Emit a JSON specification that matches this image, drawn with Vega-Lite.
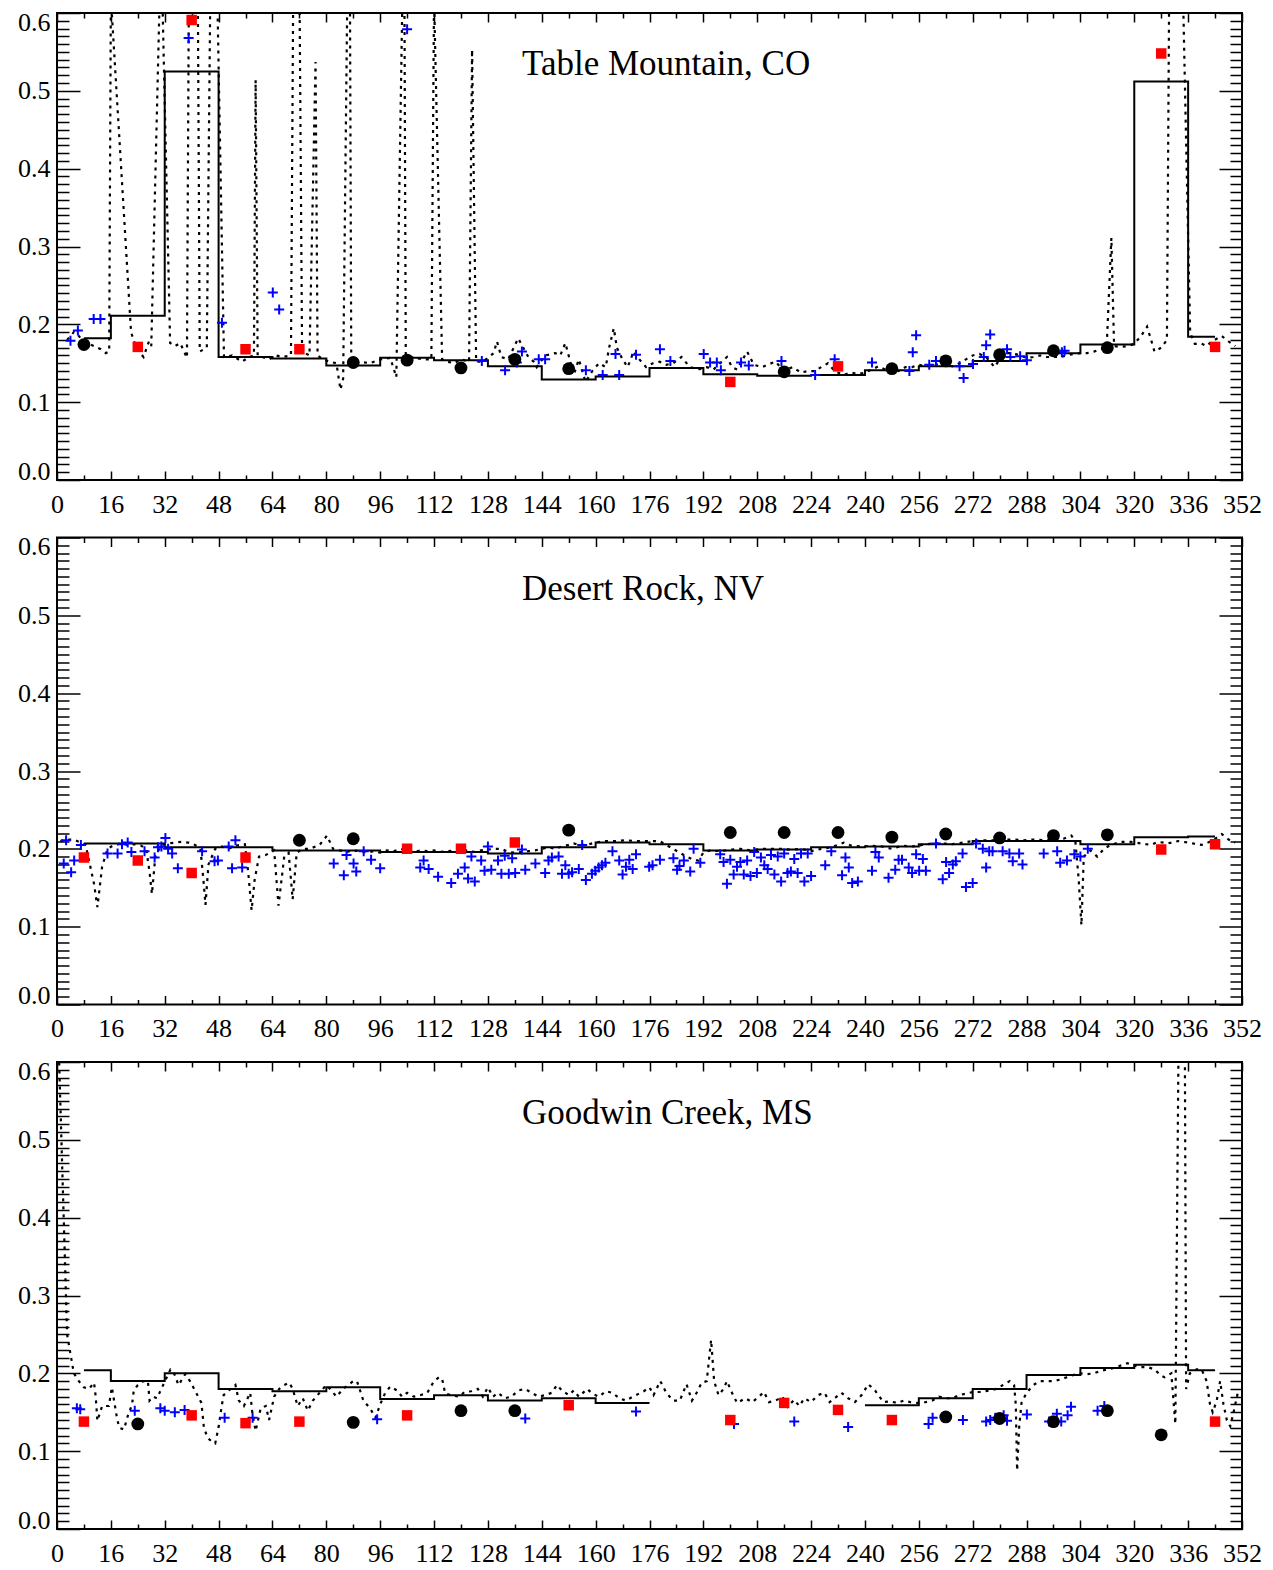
{
"$schema": "https://vega.github.io/schema/vega-lite/v6.json",
"padding": {"left": 16, "top": 8, "right": 5, "bottom": 0},
"background": "white",
"bounds": "flush",
"spacing": 57.5,
"config": {
  "font": "Liberation Serif",
  "view": {"stroke": "black", "strokeWidth": 2},
  "axis": {"domain": false, "grid": false, "tickColor": "black", "tickWidth": 1.5, "labelColor": "black", "labelFont": "Liberation Serif", "labelFontSize": 26},
  "title": {"font": "Liberation Serif", "fontSize": 35, "fontWeight": "normal", "color": "black", "anchor": "start", "frame": "group", "offset": -73, "baseline": "alphabetic", "dx": 465}
},
"datasets": {
"p1_daily": [{"day":3,"albedo":0.18},{"day":4,"albedo":0.185},{"day":5,"albedo":0.19},{"day":6,"albedo":0.188},{"day":7,"albedo":0.182},{"day":9,"albedo":0.176},{"day":11,"albedo":0.172},{"day":13,"albedo":0.168},{"day":14.5,"albedo":0.163},{"day":15.5,"albedo":0.165},{"day":16,"albedo":0.62},{"day":22,"albedo":0.19},{"day":23.5,"albedo":0.17},{"day":25.7,"albedo":0.158},{"day":27.3,"albedo":0.178},{"day":28,"albedo":0.172},{"day":30.5,"albedo":0.62},{"day":31.3,"albedo":0.62},{"day":33.6,"albedo":0.176},{"day":35,"albedo":0.172},{"day":36.6,"albedo":0.176},{"day":38.6,"albedo":0.157},{"day":39.2,"albedo":0.65},{"day":41.8,"albedo":0.65},{"day":42.4,"albedo":0.165},{"day":44.5,"albedo":0.17},{"day":45.6,"albedo":0.65},{"day":47.5,"albedo":0.65},{"day":49.6,"albedo":0.158},{"day":52,"albedo":0.16},{"day":55,"albedo":0.152},{"day":57,"albedo":0.158},{"day":58.5,"albedo":0.16},{"day":59,"albedo":0.514},{"day":59.6,"albedo":0.16},{"day":61,"albedo":0.158},{"day":63,"albedo":0.155},{"day":65,"albedo":0.16},{"day":67,"albedo":0.158},{"day":69.5,"albedo":0.16},{"day":70.2,"albedo":0.65},{"day":72,"albedo":0.65},{"day":72.8,"albedo":0.165},{"day":75,"albedo":0.16},{"day":76.8,"albedo":0.537},{"day":77.4,"albedo":0.16},{"day":79,"albedo":0.155},{"day":81,"albedo":0.152},{"day":83,"albedo":0.15},{"day":84.2,"albedo":0.116},{"day":85,"albedo":0.13},{"day":86.3,"albedo":0.65},{"day":87,"albedo":0.65},{"day":87.4,"albedo":0.16},{"day":88.5,"albedo":0.15},{"day":90,"albedo":0.152},{"day":93,"albedo":0.15},{"day":96,"albedo":0.155},{"day":99,"albedo":0.157},{"day":100.8,"albedo":0.132},{"day":102.6,"albedo":0.62},{"day":103.2,"albedo":0.62},{"day":103.6,"albedo":0.16},{"day":106,"albedo":0.157},{"day":109,"albedo":0.155},{"day":111.2,"albedo":0.155},{"day":112,"albedo":0.62},{"day":114.4,"albedo":0.155},{"day":116,"albedo":0.152},{"day":118,"albedo":0.15},{"day":120,"albedo":0.155},{"day":122.4,"albedo":0.152},{"day":123.3,"albedo":0.553},{"day":124.5,"albedo":0.152},{"day":126.5,"albedo":0.152},{"day":129.7,"albedo":0.163},{"day":130.7,"albedo":0.178},{"day":132,"albedo":0.158},{"day":134,"albedo":0.155},{"day":137,"albedo":0.182},{"day":138.5,"albedo":0.17},{"day":140,"albedo":0.158},{"day":141.6,"albedo":0.152},{"day":142.5,"albedo":0.145},{"day":145,"albedo":0.16},{"day":148,"albedo":0.163},{"day":149.5,"albedo":0.16},{"day":151,"albedo":0.176},{"day":153.5,"albedo":0.135},{"day":155,"albedo":0.155},{"day":157,"albedo":0.126},{"day":159,"albedo":0.14},{"day":161,"albedo":0.15},{"day":163,"albedo":0.145},{"day":164,"albedo":0.17},{"day":165.4,"albedo":0.195},{"day":166.3,"albedo":0.17},{"day":168,"albedo":0.155},{"day":169.5,"albedo":0.145},{"day":171.3,"albedo":0.165},{"day":173,"albedo":0.155},{"day":175,"albedo":0.145},{"day":177,"albedo":0.15},{"day":179,"albedo":0.152},{"day":181,"albedo":0.148},{"day":183,"albedo":0.15},{"day":185.5,"albedo":0.158},{"day":188,"albedo":0.145},{"day":190.5,"albedo":0.142},{"day":193,"albedo":0.145},{"day":195,"albedo":0.142},{"day":197,"albedo":0.15},{"day":199,"albedo":0.158},{"day":200.5,"albedo":0.145},{"day":202,"albedo":0.142},{"day":205,"albedo":0.165},{"day":207,"albedo":0.148},{"day":209.5,"albedo":0.145},{"day":211,"albedo":0.148},{"day":213.4,"albedo":0.152},{"day":216,"albedo":0.14},{"day":218.5,"albedo":0.145},{"day":221,"albedo":0.138},{"day":223,"albedo":0.14},{"day":225,"albedo":0.14},{"day":227,"albedo":0.145},{"day":229,"albedo":0.15},{"day":231,"albedo":0.14},{"day":233.5,"albedo":0.135},{"day":236,"albedo":0.138},{"day":238,"albedo":0.136},{"day":240,"albedo":0.138},{"day":242,"albedo":0.142},{"day":244,"albedo":0.146},{"day":246,"albedo":0.142},{"day":248,"albedo":0.145},{"day":250,"albedo":0.14},{"day":252,"albedo":0.145},{"day":254,"albedo":0.145},{"day":256,"albedo":0.148},{"day":258,"albedo":0.146},{"day":261,"albedo":0.148},{"day":263,"albedo":0.15},{"day":266,"albedo":0.146},{"day":268,"albedo":0.15},{"day":270,"albedo":0.155},{"day":272,"albedo":0.16},{"day":274,"albedo":0.162},{"day":276,"albedo":0.158},{"day":278.5,"albedo":0.145},{"day":280,"albedo":0.155},{"day":282,"albedo":0.163},{"day":284,"albedo":0.163},{"day":286,"albedo":0.16},{"day":288,"albedo":0.157},{"day":290,"albedo":0.158},{"day":292,"albedo":0.16},{"day":294,"albedo":0.158},{"day":296,"albedo":0.158},{"day":298,"albedo":0.158},{"day":300,"albedo":0.16},{"day":302,"albedo":0.162},{"day":304,"albedo":0.163},{"day":306,"albedo":0.163},{"day":308,"albedo":0.165},{"day":310,"albedo":0.168},{"day":311.8,"albedo":0.171},{"day":313.2,"albedo":0.311},{"day":314,"albedo":0.172},{"day":316,"albedo":0.171},{"day":318,"albedo":0.172},{"day":320,"albedo":0.175},{"day":322,"albedo":0.185},{"day":323.8,"albedo":0.197},{"day":325,"albedo":0.18},{"day":326,"albedo":0.165},{"day":328,"albedo":0.17},{"day":329.7,"albedo":0.18},{"day":330.4,"albedo":0.65},{"day":334.5,"albedo":0.62},{"day":336.6,"albedo":0.189},{"day":338,"albedo":0.175},{"day":340,"albedo":0.175},{"day":341.5,"albedo":0.172},{"day":343,"albedo":0.178},{"day":346,"albedo":0.185},{"day":348,"albedo":0.178},{"day":350,"albedo":0.172}],
"p1_step": [{"day":8,"albedo":0.182,"run":1},{"day":16,"albedo":0.211,"run":1},{"day":32,"albedo":0.525,"run":1},{"day":48,"albedo":0.158,"run":1},{"day":64,"albedo":0.156,"run":1},{"day":80,"albedo":0.147,"run":1},{"day":96,"albedo":0.157,"run":1},{"day":112,"albedo":0.154,"run":1},{"day":128,"albedo":0.146,"run":1},{"day":144,"albedo":0.129,"run":1},{"day":160,"albedo":0.133,"run":1},{"day":176,"albedo":0.144,"run":1},{"day":192,"albedo":0.136,"run":1},{"day":208,"albedo":0.134,"run":1},{"day":224,"albedo":0.135,"run":1},{"day":240,"albedo":0.141,"run":1},{"day":256,"albedo":0.146,"run":1},{"day":272,"albedo":0.153,"run":1},{"day":288,"albedo":0.163,"run":1},{"day":304,"albedo":0.174,"run":1},{"day":320,"albedo":0.512,"run":1},{"day":336,"albedo":0.184,"run":1},{"day":344,"albedo":0.184,"run":1}],
"p1_plus": [{"day":4,"albedo":0.179},{"day":6.2,"albedo":0.192},{"day":10.9,"albedo":0.207},{"day":12.9,"albedo":0.207},{"day":39.1,"albedo":0.568},{"day":49,"albedo":0.202},{"day":64.1,"albedo":0.241},{"day":66,"albedo":0.219},{"day":104,"albedo":0.579},{"day":126.2,"albedo":0.153},{"day":133.1,"albedo":0.141},{"day":136.6,"albedo":0.151},{"day":138.1,"albedo":0.165},{"day":143.1,"albedo":0.155},{"day":145,"albedo":0.155},{"day":157.1,"albedo":0.141},{"day":162.1,"albedo":0.135},{"day":165.9,"albedo":0.162},{"day":167,"albedo":0.135},{"day":172,"albedo":0.161},{"day":179.1,"albedo":0.168},{"day":182.2,"albedo":0.153},{"day":192.1,"albedo":0.162},{"day":194,"albedo":0.151},{"day":196,"albedo":0.151},{"day":197.2,"albedo":0.141},{"day":203.2,"albedo":0.151},{"day":205.5,"albedo":0.147},{"day":215.2,"albedo":0.153},{"day":225.2,"albedo":0.135},{"day":231,"albedo":0.155},{"day":242.1,"albedo":0.151},{"day":253.2,"albedo":0.14},{"day":254.2,"albedo":0.164},{"day":255.2,"albedo":0.186},{"day":259.1,"albedo":0.148},{"day":261.1,"albedo":0.153},{"day":268.1,"albedo":0.146},{"day":269.3,"albedo":0.131},{"day":272.1,"albedo":0.149},{"day":275.3,"albedo":0.158},{"day":276,"albedo":0.173},{"day":277.2,"albedo":0.187},{"day":282.2,"albedo":0.168},{"day":283.2,"albedo":0.158},{"day":286.1,"albedo":0.159},{"day":288.1,"albedo":0.154},{"day":298.5,"albedo":0.164},{"day":299.3,"albedo":0.166}],
"p1_sq": [{"day":24,"albedo":0.171},{"day":40,"albedo":0.591},{"day":56,"albedo":0.168},{"day":72,"albedo":0.168},{"day":200,"albedo":0.126},{"day":232,"albedo":0.146},{"day":328,"albedo":0.548},{"day":344,"albedo":0.171}],
"p1_dot": [{"day":8,"albedo":0.174},{"day":88,"albedo":0.151},{"day":104,"albedo":0.154},{"day":120,"albedo":0.144},{"day":136,"albedo":0.155},{"day":152,"albedo":0.143},{"day":216,"albedo":0.139},{"day":248,"albedo":0.143},{"day":264,"albedo":0.153},{"day":280,"albedo":0.161},{"day":296,"albedo":0.166},{"day":312,"albedo":0.17}],
"p2_daily": [{"day":1,"albedo":0.21},{"day":3,"albedo":0.212},{"day":5,"albedo":0.212},{"day":7,"albedo":0.208},{"day":8.5,"albedo":0.205},{"day":9.5,"albedo":0.185},{"day":11,"albedo":0.155},{"day":12,"albedo":0.125},{"day":13.4,"albedo":0.177},{"day":15,"albedo":0.2},{"day":17,"albedo":0.205},{"day":19,"albedo":0.207},{"day":21,"albedo":0.205},{"day":23,"albedo":0.206},{"day":25,"albedo":0.204},{"day":26.5,"albedo":0.2},{"day":27.5,"albedo":0.17},{"day":28.2,"albedo":0.142},{"day":29.2,"albedo":0.19},{"day":31,"albedo":0.205},{"day":33,"albedo":0.207},{"day":35,"albedo":0.208},{"day":37,"albedo":0.209},{"day":39,"albedo":0.208},{"day":41,"albedo":0.205},{"day":42.6,"albedo":0.2},{"day":43.5,"albedo":0.16},{"day":44.1,"albedo":0.128},{"day":45,"albedo":0.18},{"day":47,"albedo":0.2},{"day":49,"albedo":0.203},{"day":51,"albedo":0.2},{"day":53,"albedo":0.204},{"day":55.8,"albedo":0.206},{"day":56.8,"albedo":0.17},{"day":57.8,"albedo":0.121},{"day":58.7,"albedo":0.16},{"day":60,"albedo":0.19},{"day":62,"albedo":0.192},{"day":64.5,"albedo":0.198},{"day":65.8,"albedo":0.127},{"day":67.5,"albedo":0.19},{"day":68.8,"albedo":0.195},{"day":70,"albedo":0.135},{"day":71.2,"albedo":0.195},{"day":73,"albedo":0.2},{"day":75,"albedo":0.2},{"day":78,"albedo":0.205},{"day":80.2,"albedo":0.217},{"day":82,"albedo":0.2},{"day":84,"albedo":0.198},{"day":86,"albedo":0.196},{"day":88,"albedo":0.198},{"day":90,"albedo":0.197},{"day":92,"albedo":0.195},{"day":94,"albedo":0.197},{"day":96,"albedo":0.195},{"day":98,"albedo":0.198},{"day":100,"albedo":0.197},{"day":102,"albedo":0.2},{"day":104,"albedo":0.198},{"day":106,"albedo":0.196},{"day":108,"albedo":0.198},{"day":110,"albedo":0.197},{"day":112,"albedo":0.198},{"day":114,"albedo":0.196},{"day":116,"albedo":0.197},{"day":118,"albedo":0.198},{"day":120,"albedo":0.197},{"day":122,"albedo":0.198},{"day":124,"albedo":0.196},{"day":126,"albedo":0.198},{"day":128,"albedo":0.199},{"day":130,"albedo":0.2},{"day":132,"albedo":0.2},{"day":134,"albedo":0.196},{"day":136,"albedo":0.195},{"day":138,"albedo":0.196},{"day":140,"albedo":0.197},{"day":142,"albedo":0.198},{"day":144,"albedo":0.2},{"day":146,"albedo":0.202},{"day":148,"albedo":0.2},{"day":150,"albedo":0.203},{"day":152,"albedo":0.205},{"day":153.5,"albedo":0.207},{"day":155,"albedo":0.205},{"day":157,"albedo":0.205},{"day":160,"albedo":0.208},{"day":163,"albedo":0.21},{"day":166,"albedo":0.21},{"day":169,"albedo":0.211},{"day":172,"albedo":0.21},{"day":176,"albedo":0.21},{"day":179,"albedo":0.21},{"day":181,"albedo":0.205},{"day":183,"albedo":0.2},{"day":185,"albedo":0.195},{"day":187,"albedo":0.19},{"day":189,"albedo":0.186},{"day":190.5,"albedo":0.185},{"day":192,"albedo":0.195},{"day":194,"albedo":0.198},{"day":197,"albedo":0.197},{"day":200,"albedo":0.199},{"day":203,"albedo":0.2},{"day":206,"albedo":0.198},{"day":209,"albedo":0.2},{"day":212,"albedo":0.2},{"day":215,"albedo":0.2},{"day":218,"albedo":0.199},{"day":221,"albedo":0.2},{"day":224,"albedo":0.197},{"day":227,"albedo":0.2},{"day":230,"albedo":0.202},{"day":233.7,"albedo":0.208},{"day":236,"albedo":0.204},{"day":239,"albedo":0.203},{"day":242,"albedo":0.204},{"day":245,"albedo":0.203},{"day":248,"albedo":0.2},{"day":251,"albedo":0.204},{"day":254,"albedo":0.203},{"day":257,"albedo":0.205},{"day":260,"albedo":0.207},{"day":263,"albedo":0.207},{"day":266,"albedo":0.206},{"day":269,"albedo":0.208},{"day":272,"albedo":0.21},{"day":275,"albedo":0.211},{"day":278,"albedo":0.211},{"day":281,"albedo":0.212},{"day":284,"albedo":0.212},{"day":287,"albedo":0.211},{"day":290,"albedo":0.212},{"day":293,"albedo":0.211},{"day":296,"albedo":0.212},{"day":299,"albedo":0.213},{"day":301.3,"albedo":0.217},{"day":302.5,"albedo":0.21},{"day":303.5,"albedo":0.16},{"day":304.3,"albedo":0.102},{"day":305,"albedo":0.19},{"day":307,"albedo":0.198},{"day":309,"albedo":0.19},{"day":311,"albedo":0.2},{"day":313,"albedo":0.205},{"day":316,"albedo":0.209},{"day":319,"albedo":0.209},{"day":322,"albedo":0.207},{"day":325,"albedo":0.205},{"day":327,"albedo":0.209},{"day":330,"albedo":0.207},{"day":333,"albedo":0.21},{"day":336,"albedo":0.208},{"day":340,"albedo":0.205},{"day":343,"albedo":0.21},{"day":346,"albedo":0.219},{"day":348,"albedo":0.212},{"day":350,"albedo":0.208}],
"p2_step": [{"day":8,"albedo":0.207,"run":1},{"day":16,"albedo":0.207,"run":1},{"day":32,"albedo":0.202,"run":1},{"day":48,"albedo":0.202,"run":1},{"day":64,"albedo":0.198,"run":1},{"day":80,"albedo":0.198,"run":1},{"day":96,"albedo":0.196,"run":1},{"day":112,"albedo":0.196,"run":1},{"day":128,"albedo":0.194,"run":1},{"day":144,"albedo":0.202,"run":1},{"day":160,"albedo":0.208,"run":1},{"day":176,"albedo":0.206,"run":1},{"day":192,"albedo":0.198,"run":1},{"day":208,"albedo":0.199,"run":1},{"day":224,"albedo":0.202,"run":1},{"day":240,"albedo":0.203,"run":1},{"day":256,"albedo":0.206,"run":1},{"day":272,"albedo":0.21,"run":1},{"day":288,"albedo":0.21,"run":1},{"day":304,"albedo":0.206,"run":1},{"day":320,"albedo":0.215,"run":1},{"day":336,"albedo":0.216,"run":1},{"day":344,"albedo":0.216,"run":1}],
"p2_plus": [{"day":2,"albedo":0.181},{"day":2.7,"albedo":0.211},{"day":4.2,"albedo":0.17},{"day":5.1,"albedo":0.185},{"day":7.1,"albedo":0.205},{"day":15,"albedo":0.194},{"day":18,"albedo":0.194},{"day":19.3,"albedo":0.206},{"day":21,"albedo":0.208},{"day":22.1,"albedo":0.196},{"day":26,"albedo":0.197},{"day":29,"albedo":0.189},{"day":30,"albedo":0.202},{"day":31,"albedo":0.203},{"day":32.2,"albedo":0.214},{"day":33,"albedo":0.2},{"day":34.2,"albedo":0.194},{"day":35.9,"albedo":0.175},{"day":43.1,"albedo":0.197},{"day":46.8,"albedo":0.184},{"day":47.8,"albedo":0.185},{"day":51,"albedo":0.203},{"day":52,"albedo":0.175},{"day":53,"albedo":0.211},{"day":55,"albedo":0.176},{"day":82.2,"albedo":0.181},{"day":85.2,"albedo":0.166},{"day":86,"albedo":0.192},{"day":88.1,"albedo":0.181},{"day":88.9,"albedo":0.171},{"day":91.1,"albedo":0.197},{"day":93.3,"albedo":0.186},{"day":96,"albedo":0.175},{"day":107.9,"albedo":0.176},{"day":108.9,"albedo":0.185},{"day":110.4,"albedo":0.174},{"day":113.2,"albedo":0.164},{"day":117.1,"albedo":0.156},{"day":119.1,"albedo":0.168},{"day":121.1,"albedo":0.176},{"day":122.1,"albedo":0.162},{"day":123.1,"albedo":0.19},{"day":124.1,"albedo":0.158},{"day":126,"albedo":0.185},{"day":127,"albedo":0.172},{"day":128,"albedo":0.203},{"day":129,"albedo":0.173},{"day":131,"albedo":0.185},{"day":132,"albedo":0.168},{"day":133,"albedo":0.191},{"day":134.2,"albedo":0.168},{"day":135.2,"albedo":0.188},{"day":136.1,"albedo":0.169},{"day":138.1,"albedo":0.199},{"day":139.1,"albedo":0.173},{"day":142.1,"albedo":0.181},{"day":145,"albedo":0.169},{"day":146,"albedo":0.185},{"day":147,"albedo":0.189},{"day":149,"albedo":0.19},{"day":150,"albedo":0.168},{"day":151,"albedo":0.179},{"day":152,"albedo":0.168},{"day":153,"albedo":0.17},{"day":155,"albedo":0.174},{"day":156,"albedo":0.205},{"day":157.1,"albedo":0.16},{"day":158.9,"albedo":0.168},{"day":159.9,"albedo":0.172},{"day":160.9,"albedo":0.176},{"day":161.9,"albedo":0.179},{"day":162.9,"albedo":0.182},{"day":165,"albedo":0.197},{"day":167,"albedo":0.185},{"day":168,"albedo":0.167},{"day":169,"albedo":0.177},{"day":170,"albedo":0.186},{"day":171,"albedo":0.174},{"day":172,"albedo":0.193},{"day":175.9,"albedo":0.177},{"day":176.9,"albedo":0.179},{"day":179.1,"albedo":0.186},{"day":183.1,"albedo":0.188},{"day":184.2,"albedo":0.173},{"day":184.9,"albedo":0.178},{"day":186.2,"albedo":0.185},{"day":188.1,"albedo":0.171},{"day":189.1,"albedo":0.2},{"day":191.1,"albedo":0.182},{"day":197,"albedo":0.193},{"day":198,"albedo":0.183},{"day":199,"albedo":0.155},{"day":200,"albedo":0.186},{"day":201,"albedo":0.167},{"day":202,"albedo":0.177},{"day":203,"albedo":0.183},{"day":204,"albedo":0.167},{"day":205,"albedo":0.185},{"day":206,"albedo":0.165},{"day":207.1,"albedo":0.196},{"day":207.9,"albedo":0.169},{"day":209.1,"albedo":0.189},{"day":210.1,"albedo":0.179},{"day":211.1,"albedo":0.174},{"day":212.1,"albedo":0.192},{"day":213.1,"albedo":0.167},{"day":214.1,"albedo":0.19},{"day":215.1,"albedo":0.158},{"day":216,"albedo":0.194},{"day":217,"albedo":0.169},{"day":218,"albedo":0.171},{"day":219,"albedo":0.187},{"day":220,"albedo":0.169},{"day":221,"albedo":0.194},{"day":222,"albedo":0.158},{"day":223,"albedo":0.194},{"day":224,"albedo":0.165},{"day":228.2,"albedo":0.179},{"day":230,"albedo":0.197},{"day":233.2,"albedo":0.166},{"day":234.2,"albedo":0.189},{"day":235.2,"albedo":0.176},{"day":236.2,"albedo":0.156},{"day":237.9,"albedo":0.158},{"day":242.1,"albedo":0.172},{"day":243.1,"albedo":0.196},{"day":244.1,"albedo":0.189},{"day":247,"albedo":0.163},{"day":249,"albedo":0.173},{"day":250,"albedo":0.186},{"day":251,"albedo":0.186},{"day":253,"albedo":0.176},{"day":254,"albedo":0.169},{"day":255.2,"albedo":0.193},{"day":256.1,"albedo":0.172},{"day":257.2,"albedo":0.187},{"day":258.1,"albedo":0.172},{"day":261.1,"albedo":0.207},{"day":263.1,"albedo":0.161},{"day":264.1,"albedo":0.183},{"day":265,"albedo":0.169},{"day":266.1,"albedo":0.18},{"day":267,"albedo":0.184},{"day":269,"albedo":0.194},{"day":270,"albedo":0.151},{"day":272,"albedo":0.156},{"day":273,"albedo":0.207},{"day":275,"albedo":0.2},{"day":276,"albedo":0.176},{"day":276.9,"albedo":0.197},{"day":277.9,"albedo":0.197},{"day":280.9,"albedo":0.197},{"day":282.9,"albedo":0.194},{"day":283.9,"albedo":0.184},{"day":285.8,"albedo":0.194},{"day":286.8,"albedo":0.18},{"day":293.1,"albedo":0.194},{"day":297.1,"albedo":0.197},{"day":298,"albedo":0.182},{"day":300,"albedo":0.185},{"day":302.2,"albedo":0.193},{"day":304,"albedo":0.19},{"day":306.2,"albedo":0.2}],
"p2_sq": [{"day":8,"albedo":0.189},{"day":24,"albedo":0.185},{"day":40,"albedo":0.169},{"day":56,"albedo":0.189},{"day":104,"albedo":0.2},{"day":120,"albedo":0.2},{"day":136,"albedo":0.208},{"day":328,"albedo":0.199},{"day":344,"albedo":0.206}],
"p2_dot": [{"day":72,"albedo":0.211},{"day":88,"albedo":0.213},{"day":152,"albedo":0.224},{"day":200,"albedo":0.221},{"day":216,"albedo":0.221},{"day":232,"albedo":0.221},{"day":248,"albedo":0.215},{"day":264,"albedo":0.219},{"day":280,"albedo":0.214},{"day":296,"albedo":0.217},{"day":312,"albedo":0.218}],
"p3_daily": [{"day":0.5,"albedo":0.62},{"day":3,"albedo":0.25},{"day":4,"albedo":0.225},{"day":5,"albedo":0.2},{"day":6.5,"albedo":0.19},{"day":8,"albedo":0.182},{"day":9.5,"albedo":0.18},{"day":11,"albedo":0.188},{"day":11.5,"albedo":0.17},{"day":12,"albedo":0.139},{"day":13.4,"albedo":0.158},{"day":15.4,"albedo":0.158},{"day":16.3,"albedo":0.182},{"day":17.8,"albedo":0.143},{"day":18.5,"albedo":0.13},{"day":19.9,"albedo":0.128},{"day":21,"albedo":0.145},{"day":22.3,"albedo":0.16},{"day":22.8,"albedo":0.178},{"day":24,"albedo":0.185},{"day":25.7,"albedo":0.19},{"day":27,"albedo":0.19},{"day":27.5,"albedo":0.165},{"day":28.5,"albedo":0.17},{"day":29.7,"albedo":0.168},{"day":31,"albedo":0.18},{"day":33.7,"albedo":0.205},{"day":34.5,"albedo":0.203},{"day":36.1,"albedo":0.185},{"day":38.1,"albedo":0.199},{"day":39.5,"albedo":0.19},{"day":41.1,"albedo":0.177},{"day":42.9,"albedo":0.162},{"day":43.6,"albedo":0.132},{"day":44.6,"albedo":0.118},{"day":46,"albedo":0.112},{"day":47,"albedo":0.11},{"day":48,"albedo":0.131},{"day":49,"albedo":0.16},{"day":49.5,"albedo":0.172},{"day":51,"albedo":0.178},{"day":53,"albedo":0.185},{"day":54,"albedo":0.165},{"day":55.5,"albedo":0.158},{"day":57.4,"albedo":0.175},{"day":58,"albedo":0.15},{"day":59,"albedo":0.126},{"day":60.5,"albedo":0.155},{"day":62,"albedo":0.158},{"day":63,"albedo":0.14},{"day":64.5,"albedo":0.17},{"day":66,"albedo":0.18},{"day":67.5,"albedo":0.185},{"day":69,"albedo":0.188},{"day":70,"albedo":0.18},{"day":71.5,"albedo":0.158},{"day":73,"albedo":0.168},{"day":74.5,"albedo":0.152},{"day":76,"albedo":0.165},{"day":78,"albedo":0.175},{"day":80,"albedo":0.185},{"day":81.5,"albedo":0.178},{"day":83,"albedo":0.17},{"day":85,"albedo":0.18},{"day":88,"albedo":0.19},{"day":89.1,"albedo":0.19},{"day":91,"albedo":0.165},{"day":93,"albedo":0.155},{"day":94.6,"albedo":0.143},{"day":96,"albedo":0.16},{"day":97.5,"albedo":0.175},{"day":99,"albedo":0.183},{"day":101,"albedo":0.178},{"day":102.5,"albedo":0.17},{"day":104,"albedo":0.175},{"day":106,"albedo":0.17},{"day":108,"albedo":0.172},{"day":110,"albedo":0.175},{"day":112,"albedo":0.19},{"day":113.5,"albedo":0.195},{"day":114.4,"albedo":0.193},{"day":115.3,"albedo":0.174},{"day":117,"albedo":0.172},{"day":119.5,"albedo":0.17},{"day":121,"albedo":0.176},{"day":123,"albedo":0.177},{"day":125,"albedo":0.18},{"day":126.5,"albedo":0.17},{"day":128,"albedo":0.182},{"day":129.5,"albedo":0.17},{"day":131,"albedo":0.175},{"day":133,"albedo":0.168},{"day":135,"albedo":0.17},{"day":137,"albedo":0.178},{"day":139,"albedo":0.18},{"day":141,"albedo":0.175},{"day":143,"albedo":0.17},{"day":145,"albedo":0.172},{"day":147,"albedo":0.175},{"day":148.5,"albedo":0.185},{"day":150,"albedo":0.178},{"day":152,"albedo":0.172},{"day":153.5,"albedo":0.178},{"day":155,"albedo":0.17},{"day":157.5,"albedo":0.18},{"day":159,"albedo":0.174},{"day":161,"albedo":0.17},{"day":163,"albedo":0.177},{"day":165,"albedo":0.175},{"day":167,"albedo":0.168},{"day":169,"albedo":0.165},{"day":171,"albedo":0.17},{"day":174.3,"albedo":0.177},{"day":176,"albedo":0.182},{"day":177.2,"albedo":0.172},{"day":179.2,"albedo":0.19},{"day":181,"albedo":0.175},{"day":183,"albedo":0.165},{"day":185,"albedo":0.165},{"day":187,"albedo":0.186},{"day":188.6,"albedo":0.165},{"day":190,"albedo":0.175},{"day":191.5,"albedo":0.188},{"day":193,"albedo":0.19},{"day":194.3,"albedo":0.243},{"day":195.2,"albedo":0.19},{"day":196.5,"albedo":0.172},{"day":198,"albedo":0.18},{"day":199,"albedo":0.19},{"day":200.5,"albedo":0.175},{"day":202,"albedo":0.162},{"day":204.5,"albedo":0.168},{"day":206.5,"albedo":0.163},{"day":208.5,"albedo":0.17},{"day":210,"albedo":0.176},{"day":211.5,"albedo":0.163},{"day":213.5,"albedo":0.165},{"day":215.5,"albedo":0.17},{"day":217,"albedo":0.157},{"day":219,"albedo":0.166},{"day":220.5,"albedo":0.158},{"day":222,"albedo":0.168},{"day":224,"albedo":0.163},{"day":226,"albedo":0.172},{"day":228,"albedo":0.175},{"day":229.5,"albedo":0.163},{"day":231,"albedo":0.168},{"day":233,"albedo":0.175},{"day":235,"albedo":0.168},{"day":237,"albedo":0.163},{"day":239,"albedo":0.172},{"day":241,"albedo":0.186},{"day":243,"albedo":0.178},{"day":245.5,"albedo":0.163},{"day":247.5,"albedo":0.164},{"day":249.5,"albedo":0.162},{"day":251.5,"albedo":0.165},{"day":253.5,"albedo":0.163},{"day":255.5,"albedo":0.162},{"day":258,"albedo":0.163},{"day":260,"albedo":0.165},{"day":262,"albedo":0.17},{"day":264,"albedo":0.168},{"day":266,"albedo":0.168},{"day":268,"albedo":0.172},{"day":270,"albedo":0.174},{"day":272,"albedo":0.176},{"day":274.5,"albedo":0.176},{"day":277,"albedo":0.178},{"day":279,"albedo":0.18},{"day":281,"albedo":0.185},{"day":283,"albedo":0.19},{"day":284.3,"albedo":0.185},{"day":284.8,"albedo":0.16},{"day":285.2,"albedo":0.075},{"day":285.8,"albedo":0.13},{"day":286.5,"albedo":0.162},{"day":288,"albedo":0.175},{"day":290,"albedo":0.185},{"day":292,"albedo":0.19},{"day":294,"albedo":0.19},{"day":296,"albedo":0.19},{"day":298,"albedo":0.192},{"day":300,"albedo":0.195},{"day":302,"albedo":0.198},{"day":304,"albedo":0.2},{"day":306,"albedo":0.199},{"day":308,"albedo":0.2},{"day":310,"albedo":0.203},{"day":312,"albedo":0.205},{"day":314,"albedo":0.207},{"day":316,"albedo":0.21},{"day":318,"albedo":0.213},{"day":320,"albedo":0.21},{"day":322,"albedo":0.208},{"day":324,"albedo":0.208},{"day":326,"albedo":0.205},{"day":328,"albedo":0.197},{"day":329,"albedo":0.195},{"day":331,"albedo":0.2},{"day":332.2,"albedo":0.135},{"day":333.2,"albedo":0.65},{"day":335,"albedo":0.65},{"day":335.4,"albedo":0.18},{"day":336.5,"albedo":0.2},{"day":338.5,"albedo":0.205},{"day":340,"albedo":0.205},{"day":341.5,"albedo":0.19},{"day":342.5,"albedo":0.16},{"day":343.3,"albedo":0.15},{"day":344.5,"albedo":0.165},{"day":345.5,"albedo":0.19},{"day":346.5,"albedo":0.16},{"day":347.5,"albedo":0.14},{"day":348.5,"albedo":0.132},{"day":349.5,"albedo":0.15},{"day":351,"albedo":0.18}],
"p3_step": [{"day":8,"albedo":0.204,"run":1},{"day":16,"albedo":0.19,"run":1},{"day":32,"albedo":0.2,"run":1},{"day":48,"albedo":0.18,"run":1},{"day":64,"albedo":0.177,"run":1},{"day":80,"albedo":0.182,"run":1},{"day":96,"albedo":0.167,"run":1},{"day":112,"albedo":0.172,"run":1},{"day":128,"albedo":0.165,"run":1},{"day":144,"albedo":0.168,"run":1},{"day":160,"albedo":0.162,"run":1},{"day":176,"albedo":0.162,"run":1},{"day":240,"albedo":0.159,"run":2},{"day":256,"albedo":0.168,"run":2},{"day":272,"albedo":0.18,"run":2},{"day":288,"albedo":0.198,"run":2},{"day":304,"albedo":0.207,"run":2},{"day":320,"albedo":0.211,"run":2},{"day":336,"albedo":0.204,"run":2},{"day":344,"albedo":0.204,"run":2}],
"p3_plus": [{"day":5.9,"albedo":0.155},{"day":6.9,"albedo":0.154},{"day":23.1,"albedo":0.152},{"day":30.7,"albedo":0.155},{"day":32,"albedo":0.152},{"day":35,"albedo":0.15},{"day":37.9,"albedo":0.153},{"day":49.8,"albedo":0.143},{"day":58.1,"albedo":0.143},{"day":95.1,"albedo":0.141},{"day":139.1,"albedo":0.142},{"day":172,"albedo":0.151},{"day":201.1,"albedo":0.135},{"day":219,"albedo":0.138},{"day":235,"albedo":0.131},{"day":258.9,"albedo":0.135},{"day":260.1,"albedo":0.143},{"day":269.1,"albedo":0.14},{"day":276,"albedo":0.138},{"day":277.2,"albedo":0.14},{"day":278.7,"albedo":0.143},{"day":281.2,"albedo":0.146},{"day":282.2,"albedo":0.139},{"day":288.1,"albedo":0.147},{"day":294.7,"albedo":0.138},{"day":297,"albedo":0.148},{"day":298.3,"albedo":0.138},{"day":300.2,"albedo":0.146},{"day":301.2,"albedo":0.157},{"day":309.1,"albedo":0.152},{"day":311.1,"albedo":0.158}],
"p3_sq": [{"day":8,"albedo":0.138},{"day":40,"albedo":0.146},{"day":56,"albedo":0.136},{"day":72,"albedo":0.138},{"day":104,"albedo":0.146},{"day":152,"albedo":0.159},{"day":200,"albedo":0.14},{"day":216,"albedo":0.162},{"day":232,"albedo":0.153},{"day":248,"albedo":0.14},{"day":344,"albedo":0.138}],
"p3_dot": [{"day":24,"albedo":0.135},{"day":88,"albedo":0.137},{"day":120,"albedo":0.152},{"day":136,"albedo":0.152},{"day":264,"albedo":0.144},{"day":280,"albedo":0.142},{"day":296,"albedo":0.138},{"day":312,"albedo":0.152},{"day":328,"albedo":0.121}]
},
"vconcat": [
{
  "width": 1185, "height": 467,
  "title": {"text": "Table Mountain, CO"},
  "layer": [
    {"data": {"name": "p1_daily"}, "mark": {"type": "line", "color": "black", "strokeWidth": 2.2, "strokeDash": [3, 5], "clip": true},
     "encoding": {
       "x": {"field": "day", "type": "quantitative", "scale": {"domain": [0, 352], "nice": false, "zero": false}, "axis": {"orient": "bottom", "title": null, "values": [0,16,32,48,64,80,96,112,128,144,160,176,192,208,224,240,256,272,288,304,320,336,352], "ticks": false, "labelPadding": 11, "format": "d", "labelOverlap": false, "labelFlush": false, "labelFont": "Liberation Serif", "labelFontSize": 26}},
       "y": {"field": "albedo", "type": "quantitative", "scale": {"domain": [0, 0.6], "nice": false, "zero": false}, "axis": {"orient": "left", "title": null, "values": [0,0.1,0.2,0.3,0.4,0.5,0.6], "ticks": false, "labelPadding": 7, "format": ".1f", "labelFlush": true, "labelFlushOffset": 4, "labelOverlap": false, "labelFont": "Liberation Serif", "labelFontSize": 26}}}},
    {"data": {"name": "p1_step"}, "mark": {"type": "line", "interpolate": "step-after", "color": "black", "strokeWidth": 2, "clip": true},
     "encoding": {
       "x": {"field": "day", "type": "quantitative", "scale": {"domain": [0, 352], "nice": false, "zero": false}, "axis": {"orient": "bottom", "title": null, "values": [0,16,32,48,64,80,96,112,128,144,160,176,192,208,224,240,256,272,288,304,320,336,352], "labels": false, "tickSize": -9}},
       "y": {"field": "albedo", "type": "quantitative", "scale": {"domain": [0, 0.6], "nice": false, "zero": false}, "axis": {"orient": "left", "title": null, "values": [0,0.1,0.2,0.3,0.4,0.5,0.6], "labels": false, "tickSize": -23}},
       "detail": {"field": "run", "type": "nominal"}}},
    {"data": {"name": "p1_plus"}, "mark": {"type": "point", "shape": "M-1,0L1,0M0,-1L0,1", "filled": false, "color": "#0000ff", "strokeWidth": 2, "size": 100, "opacity": 1, "clip": true},
     "encoding": {
       "x": {"field": "day", "type": "quantitative", "scale": {"domain": [0, 352], "nice": false, "zero": false}, "axis": {"orient": "bottom", "title": null, "values": [8,24,40,56,72,88,104,120,136,152,168,184,200,216,232,248,264,280,296,312,328,344], "labels": false, "tickSize": -5}},
       "y": {"field": "albedo", "type": "quantitative", "scale": {"domain": [0, 0.6], "nice": false, "zero": false}, "axis": {"orient": "left", "title": null, "values": [0.01,0.02,0.03,0.04,0.05,0.06,0.07,0.08,0.09,0.11,0.12,0.13,0.14,0.15,0.16,0.17,0.18,0.19,0.21,0.22,0.23,0.24,0.25,0.26,0.27,0.28,0.29,0.31,0.32,0.33,0.34,0.35,0.36,0.37,0.38,0.39,0.41,0.42,0.43,0.44,0.45,0.46,0.47,0.48,0.49,0.51,0.52,0.53,0.54,0.55,0.56,0.57,0.58,0.59], "labels": false, "tickSize": -12}}}},
    {"data": {"name": "p1_sq"}, "mark": {"type": "square", "color": "#ff0000", "size": 110, "opacity": 1, "clip": true},
     "encoding": {
       "x": {"field": "day", "type": "quantitative", "scale": {"domain": [0, 352], "nice": false, "zero": false}, "axis": {"orient": "top", "title": null, "values": [0,16,32,48,64,80,96,112,128,144,160,176,192,208,224,240,256,272,288,304,320,336,352], "labels": false, "tickSize": -9}},
       "y": {"field": "albedo", "type": "quantitative", "scale": {"domain": [0, 0.6], "nice": false, "zero": false}, "axis": {"orient": "right", "title": null, "values": [0,0.1,0.2,0.3,0.4,0.5,0.6], "labels": false, "tickSize": -23}}}},
    {"data": {"name": "p1_dot"}, "mark": {"type": "circle", "color": "black", "size": 165, "opacity": 1, "clip": true},
     "encoding": {
       "x": {"field": "day", "type": "quantitative", "scale": {"domain": [0, 352], "nice": false, "zero": false}, "axis": {"orient": "top", "title": null, "values": [8,24,40,56,72,88,104,120,136,152,168,184,200,216,232,248,264,280,296,312,328,344], "labels": false, "tickSize": -5}},
       "y": {"field": "albedo", "type": "quantitative", "scale": {"domain": [0, 0.6], "nice": false, "zero": false}, "axis": {"orient": "right", "title": null, "values": [0.01,0.02,0.03,0.04,0.05,0.06,0.07,0.08,0.09,0.11,0.12,0.13,0.14,0.15,0.16,0.17,0.18,0.19,0.21,0.22,0.23,0.24,0.25,0.26,0.27,0.28,0.29,0.31,0.32,0.33,0.34,0.35,0.36,0.37,0.38,0.39,0.41,0.42,0.43,0.44,0.45,0.46,0.47,0.48,0.49,0.51,0.52,0.53,0.54,0.55,0.56,0.57,0.58,0.59], "labels": false, "tickSize": -12}}}}
  ],
  "resolve": {"axis": {"x": "independent", "y": "independent"}}
},
{
  "width": 1185, "height": 467,
  "title": {"text": "Desert Rock, NV"},
  "layer": [
    {"data": {"name": "p2_daily"}, "mark": {"type": "line", "color": "black", "strokeWidth": 2.2, "strokeDash": [3, 5], "clip": true},
     "encoding": {
       "x": {"field": "day", "type": "quantitative", "scale": {"domain": [0, 352], "nice": false, "zero": false}, "axis": {"orient": "bottom", "title": null, "values": [0,16,32,48,64,80,96,112,128,144,160,176,192,208,224,240,256,272,288,304,320,336,352], "ticks": false, "labelPadding": 11, "format": "d", "labelOverlap": false, "labelFlush": false, "labelFont": "Liberation Serif", "labelFontSize": 26}},
       "y": {"field": "albedo", "type": "quantitative", "scale": {"domain": [0, 0.6], "nice": false, "zero": false}, "axis": {"orient": "left", "title": null, "values": [0,0.1,0.2,0.3,0.4,0.5,0.6], "ticks": false, "labelPadding": 7, "format": ".1f", "labelFlush": true, "labelFlushOffset": 4, "labelOverlap": false, "labelFont": "Liberation Serif", "labelFontSize": 26}}}},
    {"data": {"name": "p2_step"}, "mark": {"type": "line", "interpolate": "step-after", "color": "black", "strokeWidth": 2, "clip": true},
     "encoding": {
       "x": {"field": "day", "type": "quantitative", "scale": {"domain": [0, 352], "nice": false, "zero": false}, "axis": {"orient": "bottom", "title": null, "values": [0,16,32,48,64,80,96,112,128,144,160,176,192,208,224,240,256,272,288,304,320,336,352], "labels": false, "tickSize": -9}},
       "y": {"field": "albedo", "type": "quantitative", "scale": {"domain": [0, 0.6], "nice": false, "zero": false}, "axis": {"orient": "left", "title": null, "values": [0,0.1,0.2,0.3,0.4,0.5,0.6], "labels": false, "tickSize": -23}},
       "detail": {"field": "run", "type": "nominal"}}},
    {"data": {"name": "p2_plus"}, "mark": {"type": "point", "shape": "M-1,0L1,0M0,-1L0,1", "filled": false, "color": "#0000ff", "strokeWidth": 2, "size": 100, "opacity": 1, "clip": true},
     "encoding": {
       "x": {"field": "day", "type": "quantitative", "scale": {"domain": [0, 352], "nice": false, "zero": false}, "axis": {"orient": "bottom", "title": null, "values": [8,24,40,56,72,88,104,120,136,152,168,184,200,216,232,248,264,280,296,312,328,344], "labels": false, "tickSize": -5}},
       "y": {"field": "albedo", "type": "quantitative", "scale": {"domain": [0, 0.6], "nice": false, "zero": false}, "axis": {"orient": "left", "title": null, "values": [0.01,0.02,0.03,0.04,0.05,0.06,0.07,0.08,0.09,0.11,0.12,0.13,0.14,0.15,0.16,0.17,0.18,0.19,0.21,0.22,0.23,0.24,0.25,0.26,0.27,0.28,0.29,0.31,0.32,0.33,0.34,0.35,0.36,0.37,0.38,0.39,0.41,0.42,0.43,0.44,0.45,0.46,0.47,0.48,0.49,0.51,0.52,0.53,0.54,0.55,0.56,0.57,0.58,0.59], "labels": false, "tickSize": -12}}}},
    {"data": {"name": "p2_sq"}, "mark": {"type": "square", "color": "#ff0000", "size": 110, "opacity": 1, "clip": true},
     "encoding": {
       "x": {"field": "day", "type": "quantitative", "scale": {"domain": [0, 352], "nice": false, "zero": false}, "axis": {"orient": "top", "title": null, "values": [0,16,32,48,64,80,96,112,128,144,160,176,192,208,224,240,256,272,288,304,320,336,352], "labels": false, "tickSize": -9}},
       "y": {"field": "albedo", "type": "quantitative", "scale": {"domain": [0, 0.6], "nice": false, "zero": false}, "axis": {"orient": "right", "title": null, "values": [0,0.1,0.2,0.3,0.4,0.5,0.6], "labels": false, "tickSize": -23}}}},
    {"data": {"name": "p2_dot"}, "mark": {"type": "circle", "color": "black", "size": 165, "opacity": 1, "clip": true},
     "encoding": {
       "x": {"field": "day", "type": "quantitative", "scale": {"domain": [0, 352], "nice": false, "zero": false}, "axis": {"orient": "top", "title": null, "values": [8,24,40,56,72,88,104,120,136,152,168,184,200,216,232,248,264,280,296,312,328,344], "labels": false, "tickSize": -5}},
       "y": {"field": "albedo", "type": "quantitative", "scale": {"domain": [0, 0.6], "nice": false, "zero": false}, "axis": {"orient": "right", "title": null, "values": [0.01,0.02,0.03,0.04,0.05,0.06,0.07,0.08,0.09,0.11,0.12,0.13,0.14,0.15,0.16,0.17,0.18,0.19,0.21,0.22,0.23,0.24,0.25,0.26,0.27,0.28,0.29,0.31,0.32,0.33,0.34,0.35,0.36,0.37,0.38,0.39,0.41,0.42,0.43,0.44,0.45,0.46,0.47,0.48,0.49,0.51,0.52,0.53,0.54,0.55,0.56,0.57,0.58,0.59], "labels": false, "tickSize": -12}}}}
  ],
  "resolve": {"axis": {"x": "independent", "y": "independent"}}
},
{
  "width": 1185, "height": 467,
  "title": {"text": "Goodwin Creek, MS"},
  "layer": [
    {"data": {"name": "p3_daily"}, "mark": {"type": "line", "color": "black", "strokeWidth": 2.2, "strokeDash": [3, 5], "clip": true},
     "encoding": {
       "x": {"field": "day", "type": "quantitative", "scale": {"domain": [0, 352], "nice": false, "zero": false}, "axis": {"orient": "bottom", "title": null, "values": [0,16,32,48,64,80,96,112,128,144,160,176,192,208,224,240,256,272,288,304,320,336,352], "ticks": false, "labelPadding": 11, "format": "d", "labelOverlap": false, "labelFlush": false, "labelFont": "Liberation Serif", "labelFontSize": 26}},
       "y": {"field": "albedo", "type": "quantitative", "scale": {"domain": [0, 0.6], "nice": false, "zero": false}, "axis": {"orient": "left", "title": null, "values": [0,0.1,0.2,0.3,0.4,0.5,0.6], "ticks": false, "labelPadding": 7, "format": ".1f", "labelFlush": true, "labelFlushOffset": 4, "labelOverlap": false, "labelFont": "Liberation Serif", "labelFontSize": 26}}}},
    {"data": {"name": "p3_step"}, "mark": {"type": "line", "interpolate": "step-after", "color": "black", "strokeWidth": 2, "clip": true},
     "encoding": {
       "x": {"field": "day", "type": "quantitative", "scale": {"domain": [0, 352], "nice": false, "zero": false}, "axis": {"orient": "bottom", "title": null, "values": [0,16,32,48,64,80,96,112,128,144,160,176,192,208,224,240,256,272,288,304,320,336,352], "labels": false, "tickSize": -9}},
       "y": {"field": "albedo", "type": "quantitative", "scale": {"domain": [0, 0.6], "nice": false, "zero": false}, "axis": {"orient": "left", "title": null, "values": [0,0.1,0.2,0.3,0.4,0.5,0.6], "labels": false, "tickSize": -23}},
       "detail": {"field": "run", "type": "nominal"}}},
    {"data": {"name": "p3_plus"}, "mark": {"type": "point", "shape": "M-1,0L1,0M0,-1L0,1", "filled": false, "color": "#0000ff", "strokeWidth": 2, "size": 100, "opacity": 1, "clip": true},
     "encoding": {
       "x": {"field": "day", "type": "quantitative", "scale": {"domain": [0, 352], "nice": false, "zero": false}, "axis": {"orient": "bottom", "title": null, "values": [8,24,40,56,72,88,104,120,136,152,168,184,200,216,232,248,264,280,296,312,328,344], "labels": false, "tickSize": -5}},
       "y": {"field": "albedo", "type": "quantitative", "scale": {"domain": [0, 0.6], "nice": false, "zero": false}, "axis": {"orient": "left", "title": null, "values": [0.01,0.02,0.03,0.04,0.05,0.06,0.07,0.08,0.09,0.11,0.12,0.13,0.14,0.15,0.16,0.17,0.18,0.19,0.21,0.22,0.23,0.24,0.25,0.26,0.27,0.28,0.29,0.31,0.32,0.33,0.34,0.35,0.36,0.37,0.38,0.39,0.41,0.42,0.43,0.44,0.45,0.46,0.47,0.48,0.49,0.51,0.52,0.53,0.54,0.55,0.56,0.57,0.58,0.59], "labels": false, "tickSize": -12}}}},
    {"data": {"name": "p3_sq"}, "mark": {"type": "square", "color": "#ff0000", "size": 110, "opacity": 1, "clip": true},
     "encoding": {
       "x": {"field": "day", "type": "quantitative", "scale": {"domain": [0, 352], "nice": false, "zero": false}, "axis": {"orient": "top", "title": null, "values": [0,16,32,48,64,80,96,112,128,144,160,176,192,208,224,240,256,272,288,304,320,336,352], "labels": false, "tickSize": -9}},
       "y": {"field": "albedo", "type": "quantitative", "scale": {"domain": [0, 0.6], "nice": false, "zero": false}, "axis": {"orient": "right", "title": null, "values": [0,0.1,0.2,0.3,0.4,0.5,0.6], "labels": false, "tickSize": -23}}}},
    {"data": {"name": "p3_dot"}, "mark": {"type": "circle", "color": "black", "size": 165, "opacity": 1, "clip": true},
     "encoding": {
       "x": {"field": "day", "type": "quantitative", "scale": {"domain": [0, 352], "nice": false, "zero": false}, "axis": {"orient": "top", "title": null, "values": [8,24,40,56,72,88,104,120,136,152,168,184,200,216,232,248,264,280,296,312,328,344], "labels": false, "tickSize": -5}},
       "y": {"field": "albedo", "type": "quantitative", "scale": {"domain": [0, 0.6], "nice": false, "zero": false}, "axis": {"orient": "right", "title": null, "values": [0.01,0.02,0.03,0.04,0.05,0.06,0.07,0.08,0.09,0.11,0.12,0.13,0.14,0.15,0.16,0.17,0.18,0.19,0.21,0.22,0.23,0.24,0.25,0.26,0.27,0.28,0.29,0.31,0.32,0.33,0.34,0.35,0.36,0.37,0.38,0.39,0.41,0.42,0.43,0.44,0.45,0.46,0.47,0.48,0.49,0.51,0.52,0.53,0.54,0.55,0.56,0.57,0.58,0.59], "labels": false, "tickSize": -12}}}}
  ],
  "resolve": {"axis": {"x": "independent", "y": "independent"}}
}
]
}
